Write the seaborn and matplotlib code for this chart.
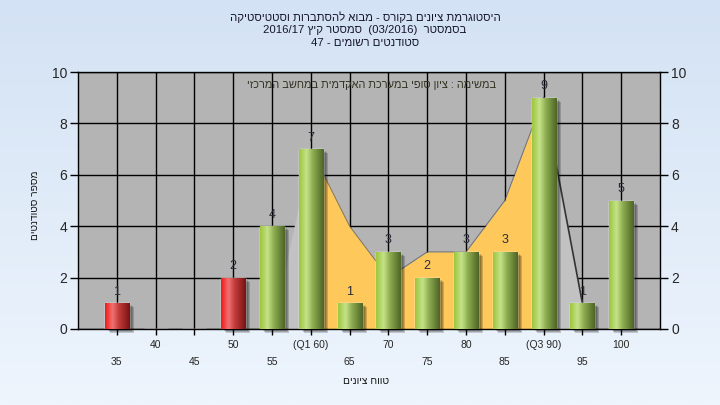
import re
import numpy as np
import pandas as pd
import matplotlib
matplotlib.use("Agg")
import matplotlib.pyplot as plt
import matplotlib.transforms as mtransforms
from matplotlib.colors import LinearSegmentedColormap
from matplotlib.patches import Rectangle
import seaborn as sns

# ---------------- data ----------------
categories = ["35", "40", "45", "50", "55", "60", "65", "70", "75", "80", "85", "90", "95", "100"]
tick_labels = ["35", "40", "45", "50", "55", "(Q1 60)", "65", "70", "75", "80", "85", "(Q3 90)", "95", "100"]
counts = [1, 0, 0, 2, 4, 7, 1, 3, 2, 3, 3, 9, 1, 5]
area_values = [0, 0, 0, 0, 0, 7, 4, 2, 3, 3, 5, 9, 1, 0]
fail_categories = ["35", "40", "45", "50"]

title_lines = [
    "היסטוגרמת ציונים בקורס - מבוא להסתברות וסטטיסטיקה",
    "בסמסטר  (03/2016)  סמסטר קיץ 2016/17",
    "סטודנטים רשומים - 47",
]
note_text = "במשימה : ציון סופי במערכת האקדמית במחשב המרכזי"
x_title = "טווח ציונים"
y_title = "מספר סטודנטים"


def vis(s):
    """Simple visual reordering for an RTL paragraph."""
    runs = re.findall(r"[0-9A-Za-z/.]+|[^0-9A-Za-z/.]+", s)
    out = []
    for r in reversed(runs):
        if re.match(r"[0-9A-Za-z/.]", r):
            out.append(r)
        else:
            out.append(r[::-1].translate(str.maketrans("()", ")(")))
    return "".join(out)


sns.set_theme(style="white")
plt.rcParams["font.family"] = ["Liberation Sans", "DejaVu Sans"]

fig = plt.figure(figsize=(7.2, 4.05), dpi=100)

# figure background gradient
bg = fig.add_axes([0, 0, 1, 1], zorder=-10)
grad = np.linspace(0, 1, 256).reshape(-1, 1)
bg_cmap = LinearSegmentedColormap.from_list("bg", ["#d3e2f4", "#eef5fd"])
bg.imshow(grad, aspect="auto", cmap=bg_cmap, extent=[0, 1, 0, 1])
bg.set_axis_off()

ax = fig.add_axes([78 / 720, 1 - 329 / 405, 582 / 720, 257 / 405])
ax.set_facecolor("#b4b4b4")

df = pd.DataFrame({"grade": categories, "count": counts})
palette = {c: ("#e8252a" if c in fail_categories else "#98c440") for c in categories}
sns.barplot(data=df, x="grade", y="count", hue="grade", palette=palette,
            order=categories, hue_order=categories, width=0.62, legend=False,
            saturation=1, ax=ax, zorder=3)

xpos = np.arange(len(categories))
# area series
av = np.array(area_values, dtype=float)
seg_mid = (xpos >= 5) & (xpos <= 11)
ax.fill_between(xpos[seg_mid], 0, av[seg_mid], color="#fec95a", lw=0, zorder=1.5)
for a, b in [(4, 5), (11, 12)]:
    ax.fill_between(xpos[a:b + 1], 0, av[a:b + 1], color="#c2c2c2", lw=0, zorder=1.5)
ax.plot(xpos[5:12], av[5:12], color="#555555", lw=0.7, alpha=0.7, zorder=1.6)
ax.plot(xpos[11:13], av[11:13], color="#333333", lw=1.2, zorder=1.6)

# bar gradients & shadows
green_cmap = LinearSegmentedColormap.from_list(
    "g", [(0, "#9cc63e"), (0.3, "#c6e389"), (0.55, "#8fae52"), (1, "#4d6526")])
red_cmap = LinearSegmentedColormap.from_list(
    "r", [(0, "#f01818"), (0.3, "#f27272"), (0.55, "#c33c3c"), (1, "#7a1212")])
hgrad = np.linspace(0, 1, 64).reshape(1, -1)
for p in list(ax.patches):
    h = p.get_height()
    if h <= 0:
        continue
    x0, y0 = p.get_x(), p.get_y()
    w = p.get_width()
    cat = categories[int(round(x0 + w / 2))]
    cmap = red_cmap if cat in fail_categories else green_cmap
    for k, al in enumerate([0.16, 0.16, 0.18]):
        sh = Rectangle((x0, y0), w, h, facecolor="black", alpha=al, lw=0,
                       transform=ax.transData + mtransforms.ScaledTranslation(
                           (3 + k) / 100, -(2 + k) / 100, fig.dpi_scale_trans),
                       zorder=2.5, clip_on=False)
        ax.add_patch(sh)
    im = ax.imshow(hgrad, extent=[x0, x0 + w, y0, y0 + h], aspect="auto",
                   cmap=cmap, zorder=3.1, interpolation="bicubic")
    im.set_clip_path(p)

for c in ax.containers:
    labels = [f"{v:g}" if v > 0 else "" for v in c.datavalues]
    ax.bar_label(c, labels=labels, padding=4, fontsize=9, color="#2a2a3a", zorder=5)

ax.set_xlim(-1, len(categories))
ax.set_ylim(0, 10)
ax.set_yticks([0, 2, 4, 6, 8, 10])
ax.set_xticks(xpos)
ax.set_xticklabels([("\n" + t) if i % 2 == 0 else t for i, t in enumerate(tick_labels)],
                   fontsize=7.5, linespacing=1.9)
ax.grid(True, color="black", lw=1)
ax.set_axisbelow(True)
ax.tick_params(axis="y", direction="out", length=6, width=1, color="black",
               labelsize=10, left=True, pad=2)
ax.tick_params(axis="x", direction="out", length=4, width=1, color="black", bottom=True, pad=4)
for s in ax.spines.values():
    s.set_color("black")
    s.set_linewidth(1)
ax.set_xlabel("")
ax.set_ylabel("")

ax2 = ax.twinx()
ax2.set_ylim(0, 10)
ax2.set_yticks([0, 2, 4, 6, 8, 10])
ax2.tick_params(axis="y", direction="out", length=6, width=1, color="black",
                labelsize=10, right=True, pad=2)
ax2.grid(False)
for s in ax2.spines.values():
    s.set_visible(False)

ax.text(0.505, 0.95, vis(note_text), transform=ax.transAxes, ha="center", va="center",
        fontsize=7.9, color="#333322", zorder=6)

for i, (line, yy) in enumerate(zip(title_lines, [0.958, 0.926, 0.894])):
    fig.text(0.507, yy, vis(line), ha="center", va="center", fontsize=8.2, color="#151530")

fig.text(0.508, 0.059, vis(x_title), ha="center", va="center", fontsize=7.4, color="#151515")
fig.text(0.049, 0.494, vis(y_title), ha="center", va="center", rotation=90,
         fontsize=7.3, color="#151515")

fig.savefig("out.png", dpi=100)
